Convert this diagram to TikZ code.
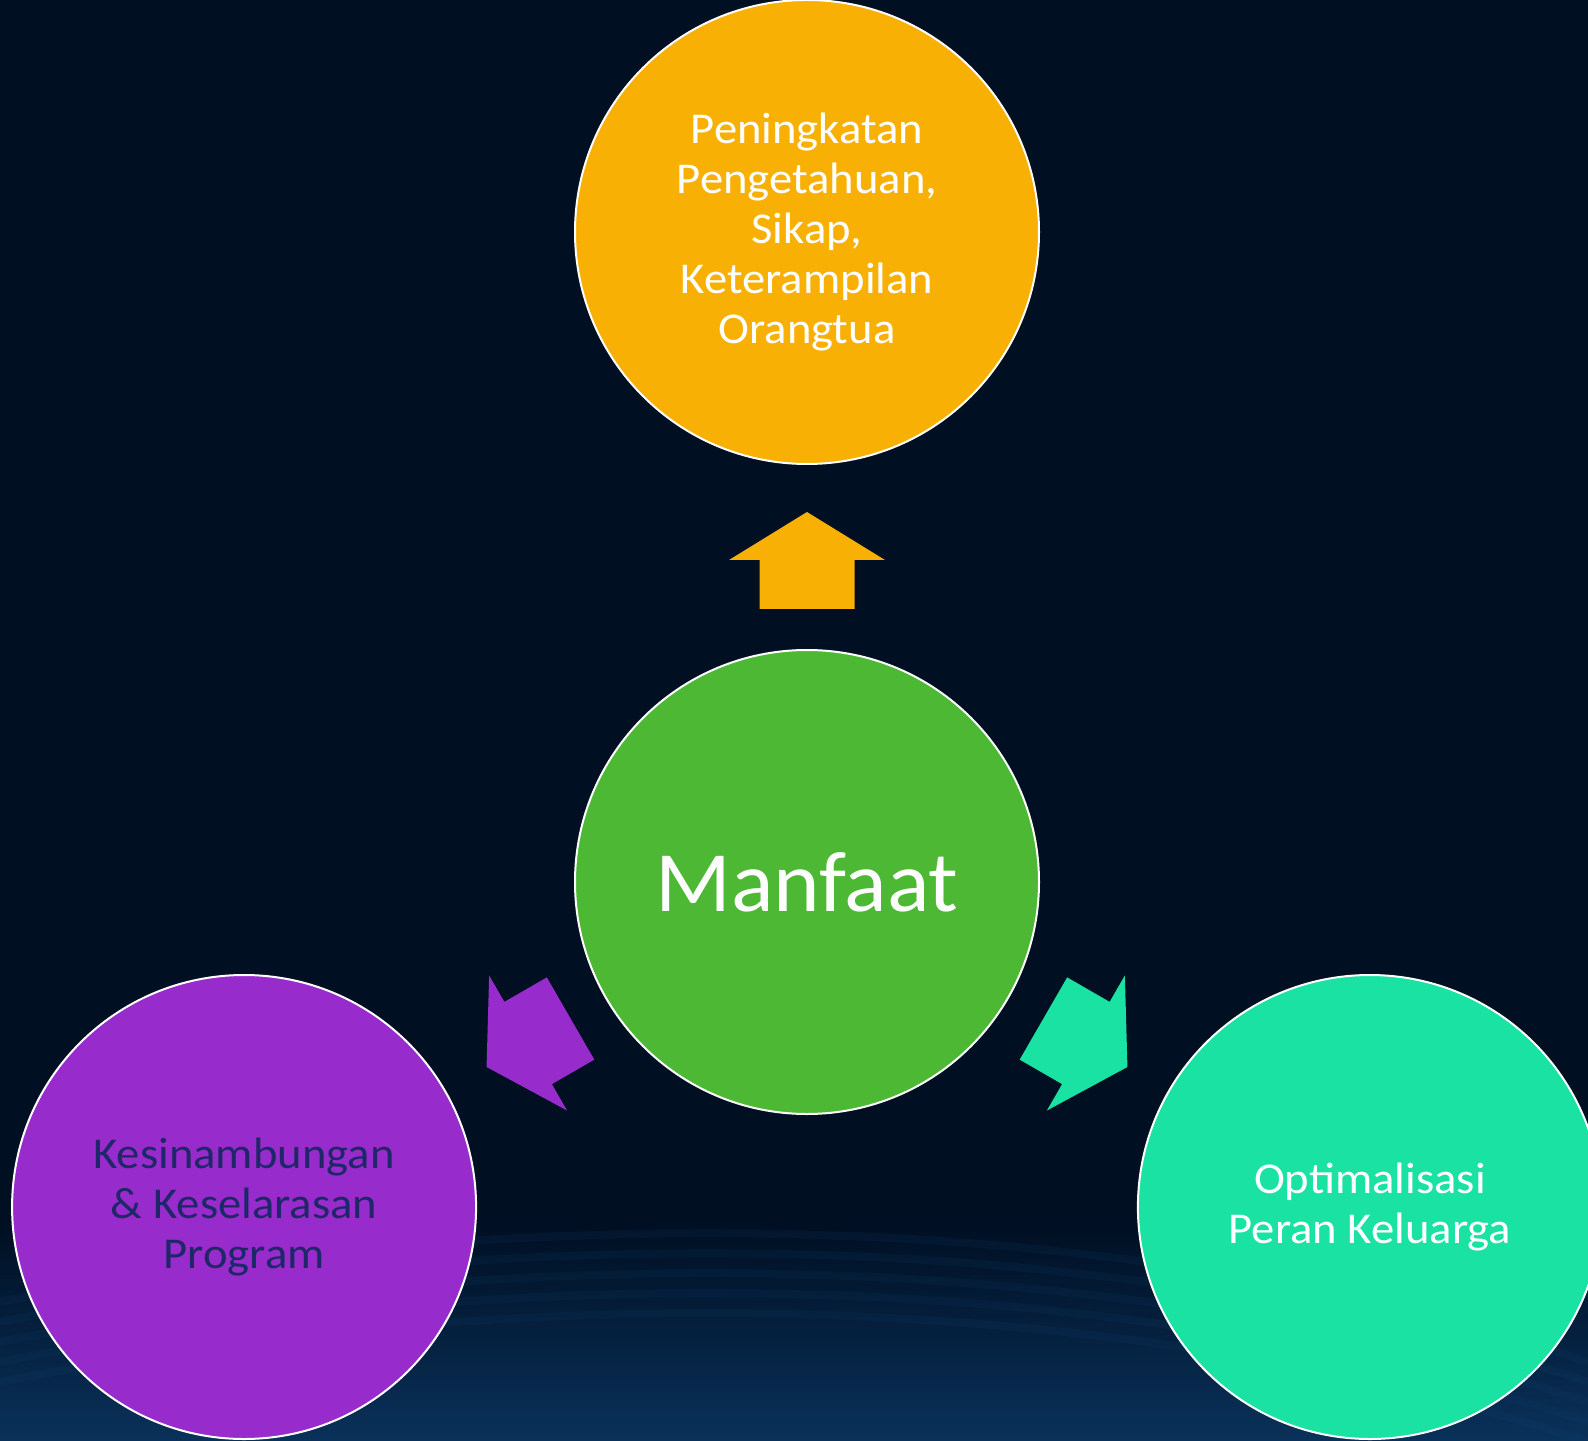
\documentclass[tikz,border=0pt]{standalone}
\usepackage{fontspec}
\setmainfont{Carlito}[FakeStretch=1.06]
\newfontfamily\bigfont{Carlito}[FakeStretch=1.03]
\definecolor{bgc}{HTML}{000F22}
\definecolor{bgb}{HTML}{0A315A}
\definecolor{wave}{HTML}{124A7A}
\definecolor{orng}{HTML}{F8B004}
\definecolor{grn}{HTML}{4CB834}
\definecolor{prpl}{HTML}{982BCB}
\definecolor{teal}{HTML}{1AE2A2}
\definecolor{navytxt}{HTML}{1E2868}
\tikzset{
  bubble/.style={circle, draw=white, line width=1pt, minimum size=232pt, inner sep=0pt, align=center, font=\fontsize{22}{25}\selectfont},
  wavy/.style={wave, line width=4pt, opacity=0.12}
}
\begin{document}
\begin{tikzpicture}[x=0.5pt,y=0.5pt]
\useasboundingbox (-807,-558) rectangle (781,882);
\fill[bgc] (-807,-558) rectangle (781,882);
\shade[top color=bgc, bottom color=bgb] (-807,-558) rectangle (781,-340);
\foreach \dy in {0,20,40,60,80}{
  \draw[wavy] (-807,-500+\dy) .. controls (-300,-400+\dy) and (300,-400+\dy) .. (781,-560+\dy);
}
% arrows
\foreach \ang/\col in {0/orng, 120/prpl, 240/teal}{
  \fill[\col, rotate=\ang] (0,370) -- (78,322) -- (47.5,322) -- (47.5,273) -- (-47.5,273) -- (-47.5,322) -- (-78,322) -- cycle;
}
\node[bubble, fill=grn, text=white, font=\bigfont\fontsize{43}{50}\selectfont] (center) at (0,0) {Manfaat};
\node[bubble, fill=orng, text=white] (top) at (90:650) {Peningkatan\\Pengetahuan,\\Sikap,\\Keterampilan\\Orangtua};
\node[bubble, fill=prpl, text=navytxt] (left) at (210:650) {Kesinambungan\\\&{} Keselarasan\\Program};
\node[bubble, fill=teal, text=white] (right) at (330:650) {Optimalisasi\\Peran Keluarga};
\end{tikzpicture}
\end{document}
